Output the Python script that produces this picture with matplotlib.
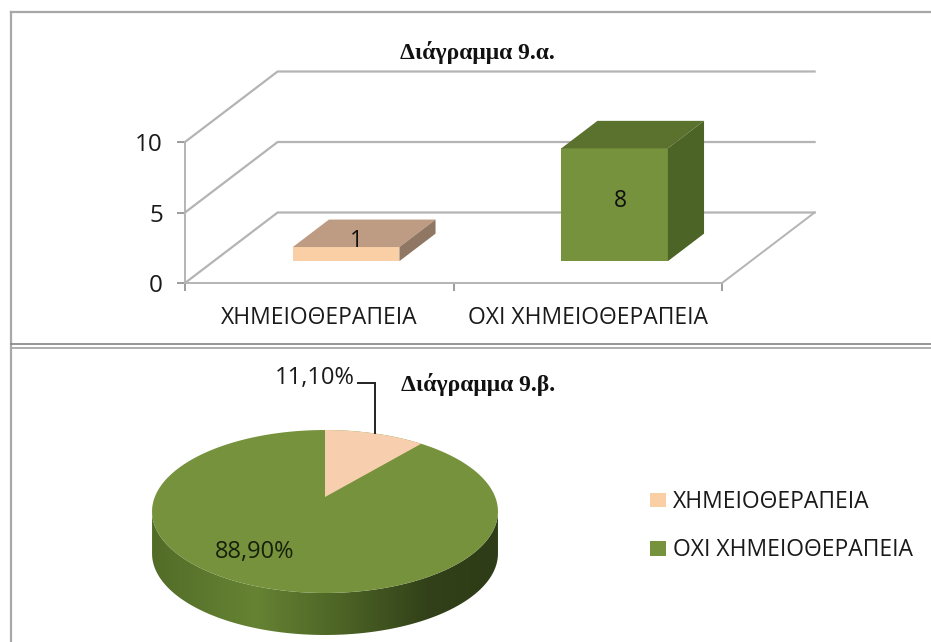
import numpy as np
import matplotlib
matplotlib.use('Agg')
import matplotlib.pyplot as plt
from matplotlib.patches import Polygon

plt.rcParams['font.family'] = ['Open Sans', 'DejaVu Sans']

W, H = 931, 642

categories = ['ΧΗΜΕΙΟΘΕΡΑΠΕΙΑ', 'ΟΧΙ ΧΗΜΕΙΟΘΕΡΑΠΕΙΑ']
counts = [1, 8]
y_ticks = [0, 5, 10]
shares = [11.1, 88.9]
share_labels = ['11,10%', '88,90%']
title_a = 'Διάγραμμα 9.α.'
title_b = 'Διάγραμμα 9.β.'

PEACH = '#fbcfa6'
PEACH_TOP = '#bd9c83'
PEACH_SIDE = '#8f7763'
GREEN = '#76923c'
GREEN_TOP = '#5a722e'
GREEN_SIDE = '#4c6425'
GRID = '#b4b4b4'
TEXT = '#1a1a1a'
LABEL_SIZE = 16.5


def px_axes(left, top, right, bottom):
    # axes placed by its pixel box in the 931x642 picture
    return fig.add_axes([left / W, 1 - bottom / H, (right - left) / W, (bottom - top) / H])


fig = plt.figure(figsize=(W / 100, H / 100), dpi=100)

# frames
bg = fig.add_axes([0, 0, 1, 1])
bg.set_xlim(0, W)
bg.set_ylim(H, 0)
bg.axis('off')
bg.plot([10.5, 10.5], [H, 12], color='#a8a8a8', lw=1.6)
bg.plot([10.5, W], [12, 12], color='#a8a8a8', lw=1.6)
bg.plot([10.5, W], [344, 344], color='#8c8c8c', lw=1.3)
bg.plot([10.5, W], [348, 348], color='#a8a8a8', lw=1.3)

bg.text(477, 53, title_a, family='Liberation Serif', weight='bold',
        fontsize=17, ha='center', va='center', color='#111111')
bg.text(478, 385, title_b, family='Liberation Serif', weight='bold',
        fontsize=17, ha='center', va='center', color='#111111')

# ---- 3D bar chart, front plane: x 0..2, y 0..10
ax = px_axes(185, 142, 722, 283)
ax.set_xlim(0, 2)
ax.set_ylim(0, 10)
ax.patch.set_alpha(0)
for s in ['top', 'right']:
    ax.spines[s].set_visible(False)
for s in ['left', 'bottom']:
    ax.spines[s].set_color(GRID)
    ax.spines[s].set_linewidth(1.4)

DX, DY = 0.345, 5.0  # depth of the box in data units
for t in y_ticks:
    ax.plot([0, DX, 2 + DX], [t, t + DY, t + DY], color=GRID, lw=1.6, clip_on=False,
            solid_joinstyle='miter', zorder=1)
ax.plot([2, 2 + DX], [0, DY], color=GRID, lw=1.4, clip_on=False, zorder=1)

ax.set_yticks(y_ticks)
ax.set_xticks([0, 1, 2])
ax.set_xticklabels([])
ax.tick_params(axis='both', color='#8c8c8c', length=6, width=1.2)
ax.tick_params(axis='y', labelsize=17.5, labelcolor=TEXT, pad=10)
for c, name in zip([0.5, 1.5], categories):
    ax.text(c, -2.5, name, ha='center', va='center', fontsize=LABEL_SIZE, color=TEXT, clip_on=False)

front = 0.29  # how far into the depth the bars stand
bar_depth = 0.39
bar_w = 0.397
x0 = front * DX
y0 = 0.31 * DY
ddx = bar_depth * DX
ddy = bar_depth * DY
faces = [(PEACH, PEACH_TOP, PEACH_SIDE), (GREEN, GREEN_TOP, GREEN_SIDE)]
label_pos = [(0.64, 3.0), (1.62, 5.8)]
for i, v in enumerate(counts):
    xc = i + 0.5 + x0
    l, r = xc - bar_w / 2, xc + bar_w / 2
    f, t, s = faces[i]
    ax.bar(xc, v, bar_w, bottom=y0, color=f, clip_on=False, zorder=3)
    ax.add_patch(Polygon([(l, y0 + v), (r, y0 + v), (r + ddx, y0 + v + ddy), (l + ddx, y0 + v + ddy)],
                         color=t, lw=0, clip_on=False, zorder=3))
    ax.add_patch(Polygon([(r, y0), (r + ddx, y0 + ddy), (r + ddx, y0 + v + ddy), (r, y0 + v)],
                         color=s, lw=0, clip_on=False, zorder=3))
    ax.text(label_pos[i][0], label_pos[i][1], str(v), ha='center', va='center', fontsize=16.5,
            color='#101010', zorder=4, clip_on=False)

# ---- 3D pie, axes in pixels around the tip of the slices
CX, CY = 325, 497
A, B, P = 170.2, 78.9, 0.178  # disc half-axes and perspective strength
DEPTH = 42
pie = px_axes(0, 350, W, H)


def disc(theta):
    # theta clockwise from 12 o'clock, projected with perspective
    u, v = np.sin(theta), np.cos(theta)
    d = 1 + P * v
    return A * u / d, -B * v / d


t_all = np.linspace(0, 2 * np.pi, 400)
ex, ey = disc(t_all)

# side wall with left to right shading
left_i, right_i = np.argmin(ex), np.argmax(ex)
lower = t_all[right_i:left_i + 1]
sx, sy = disc(lower)
wall = np.vstack([np.c_[sx, sy], np.c_[sx[::-1], sy[::-1] + DEPTH]])
wall_patch = Polygon(wall, closed=True, fc='none', ec='none')
pie.add_patch(wall_patch)
stops = np.array([0.0, 0.12, 0.3, 0.55, 0.8, 1.0])
rgb = np.array([[0x52, 0x6c, 0x28], [0x5a, 0x76, 0x2d], [0x66, 0x83, 0x33],
                [0x4c, 0x63, 0x25], [0x32, 0x41, 0x19], [0x2e, 0x3c, 0x17]]) / 255
xs = np.linspace(0, 1, 256)
grad = np.stack([np.interp(xs, stops, rgb[:, k]) for k in range(3)], axis=1)[None, :, :]
im = pie.imshow(grad, extent=[ex.min(), ex.max(), H - CY, 350 - CY], aspect='auto', zorder=1)
im.set_clip_path(wall_patch)
pie.set_xlim(-CX, W - CX)
pie.set_ylim(H - CY, 350 - CY)
pie.axis('off')

pie.add_patch(Polygon(np.c_[ex, ey], closed=True, fc=GREEN, ec='none', zorder=2))
end = 2 * np.pi * shares[0] / sum(shares)
wx, wy = disc(np.linspace(0, end, 60))
pie.add_patch(Polygon(np.vstack([[0, 0], np.c_[wx, wy]]), closed=True, fc='#f8cfae', ec='none', zorder=3))

# leader and labels
mx, my = disc(end / 2)
pie.plot([mx, mx, 358 - CX], [my, 383 - CY, 383 - CY], color='#222222', lw=1.4, zorder=4,
         solid_joinstyle='miter')
pie.text(315 - CX, 378 - CY, share_labels[0], ha='center', va='center', fontsize=17, color=TEXT)
pie.text(255 - CX, 552 - CY, share_labels[1], ha='center', va='center', fontsize=17, color='#17200a', zorder=4)

# legend
bg.add_patch(Polygon([(650, 493), (666, 493), (666, 507), (650, 507)], fc=PEACH, ec='none'))
bg.add_patch(Polygon([(650, 541), (666, 541), (666, 556), (650, 556)], fc=GREEN, ec='none'))
bg.text(673, 502, categories[0], fontsize=LABEL_SIZE, va='center', color=TEXT)
bg.text(673, 550, categories[1], fontsize=LABEL_SIZE, va='center', color=TEXT)

fig.savefig('out.png', dpi=100)
